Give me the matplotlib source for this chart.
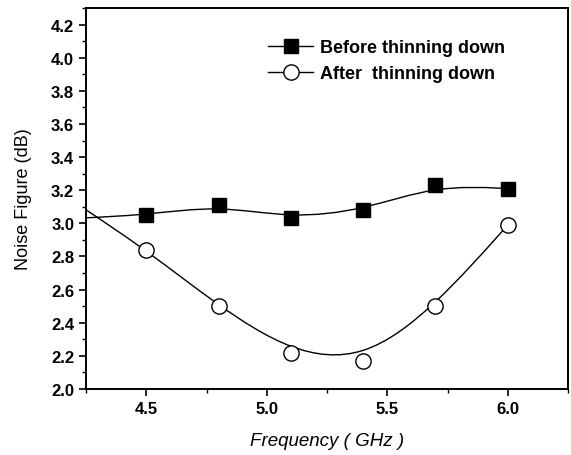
import matplotlib
matplotlib.use("Agg")
import matplotlib.pyplot as plt
from matplotlib.path import Path
from matplotlib.patches import PathPatch
from matplotlib.ticker import MultipleLocator
import numpy as np

plt.rcParams["font.family"] = ["Liberation Sans", "DejaVu Sans"]

# frequency (GHz); the 4.2 point lies just outside the axes and is clipped
freq = [4.2, 4.5, 4.8, 5.1, 5.4, 5.7, 6.0]
nf_before = [3.03, 3.05, 3.11, 3.03, 3.08, 3.23, 3.21]
nf_after = [3.13, 2.84, 2.50, 2.22, 2.17, 2.50, 2.99]


def bspline_path(x, y):
    # clamped uniform cubic B-spline with the data as control points,
    # written as Bezier segments (Origin-style "B-Spline" connect line)
    pts = np.column_stack([np.asarray(x, float), np.asarray(y, float)])
    P = np.vstack([pts[:1], pts[:1], pts, pts[-1:], pts[-1:]])
    verts, codes = [], []
    for i in range(len(P) - 3):
        b0, b1, b2, b3 = P[i], P[i + 1], P[i + 2], P[i + 3]
        start = (b0 + 4 * b1 + b2) / 6
        if i == 0:
            verts.append(start); codes.append(Path.MOVETO)
        verts += [(2 * b1 + b2) / 3, (b1 + 2 * b2) / 3, (b1 + 4 * b2 + b3) / 6]
        codes += [Path.CURVE4] * 3
    return Path(verts, codes)


fig = plt.figure(figsize=(5.71, 4.56), dpi=100)
ax = fig.add_axes([86 / 571, 1 - 390 / 456, (568 - 86) / 571, (390 - 9) / 456])

for yy in (nf_before, nf_after):
    ax.add_patch(PathPatch(bspline_path(freq, yy), fill=False, color="black", lw=1.0, zorder=2))

ax.plot(freq, nf_before, ls="none", marker="s", ms=10.5, color="black", zorder=3)
ax.plot(freq, nf_after, ls="none", marker="o", ms=11, mfc="white", mec="black", mew=1.0, zorder=3)

# legend handles: "-marker-" style
ax.plot([], [], "-s", color="black", ms=10.5, lw=1.0, label="Before thinning down")
ax.plot([], [], "-o", color="black", ms=11, mfc="white", lw=1.0, label="After  thinning down")
ax.legend(loc="upper left", bbox_to_anchor=(0.378, 0.918), frameon=False,
          borderpad=0, borderaxespad=0, handlelength=2.5, handletextpad=0.35,
          labelspacing=0.5, numpoints=1, prop={"weight": "bold", "size": 13})

ax.set_xlim(4.25, 6.25)
ax.set_ylim(2.0, 4.3)
ax.xaxis.set_major_locator(MultipleLocator(0.5))
ax.xaxis.set_minor_locator(MultipleLocator(0.25))
ax.yaxis.set_major_locator(MultipleLocator(0.2))
ax.yaxis.set_minor_locator(MultipleLocator(0.1))
ax.set_xticks([4.5, 5.0, 5.5, 6.0])
ax.tick_params(which="major", direction="out", length=5, width=1.2, labelsize=12)
ax.tick_params(which="minor", direction="out", length=3, width=1.0)
for lab in ax.get_xticklabels() + ax.get_yticklabels():
    lab.set_fontweight("bold")
for sp in ax.spines.values():
    sp.set_linewidth(1.4)

ax.set_xlabel("Frequency ( GHz )", fontsize=13.5, style="italic", labelpad=12)
ax.set_ylabel("Noise Figure (dB)", fontsize=13, labelpad=14)

fig.savefig("out.png", dpi=100)
